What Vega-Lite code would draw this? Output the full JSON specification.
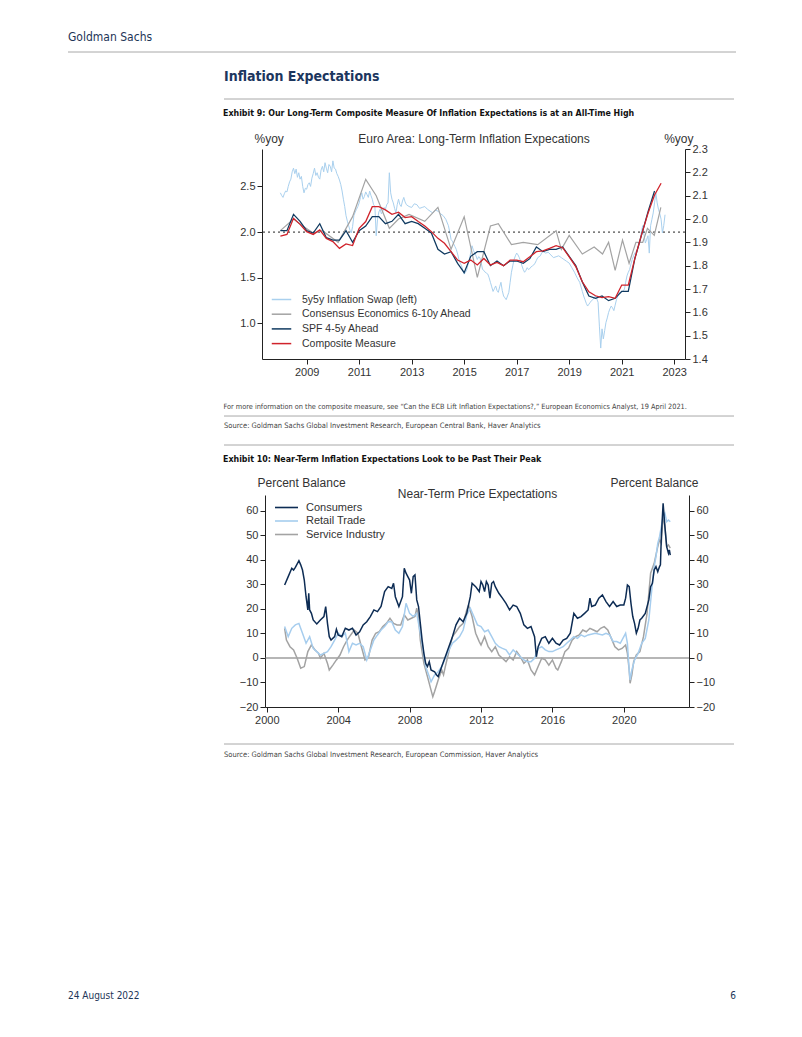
{
"$schema": "https://vega.github.io/schema/vega-lite/v6.json",
"background": "white",
"padding": {"left": 67, "top": 30, "right": 67, "bottom": 36},
"spacing": 0,
"resolve": {"scale": {"color": "independent", "strokeWidth": "independent"}, "legend": {"color": "independent", "strokeWidth": "independent"}},
"config": {
  "view": {"stroke": null},
  "axis": {"labelFont": "Liberation Sans", "titleFont": "Liberation Sans", "labelFontSize": 11, "titleFontSize": 12, "titleFontWeight": "normal", "labelColor": "#333", "titleColor": "#333", "domainColor": "#222", "tickColor": "#222", "grid": false, "tickSize": 5, "labelPadding": 2},
  "legend": {"labelFont": "Liberation Sans", "labelColor": "#333", "labelLimit": 300}
},
"datasets": {
  "swap": [
{"t":2008.0,"v":2.43},{"t":2008.05,"v":2.40},{"t":2008.1,"v":2.38},{"t":2008.15,"v":2.42},{"t":2008.2,"v":2.45},{"t":2008.25,"v":2.44},{"t":2008.3,"v":2.50},{"t":2008.35,"v":2.55},{"t":2008.4,"v":2.58},{"t":2008.45,"v":2.66},{"t":2008.5,"v":2.70},{"t":2008.55,"v":2.64},{"t":2008.6,"v":2.69},{"t":2008.65,"v":2.60},{"t":2008.7,"v":2.65},{"t":2008.75,"v":2.58},{"t":2008.8,"v":2.61},{"t":2008.85,"v":2.50},{"t":2008.9,"v":2.43},{"t":2008.95,"v":2.48},
{"t":2009.0,"v":2.47},{"t":2009.05,"v":2.52},{"t":2009.1,"v":2.54},{"t":2009.15,"v":2.50},{"t":2009.2,"v":2.59},{"t":2009.25,"v":2.64},{"t":2009.3,"v":2.70},{"t":2009.35,"v":2.62},{"t":2009.4,"v":2.65},{"t":2009.45,"v":2.60},{"t":2009.5,"v":2.58},{"t":2009.55,"v":2.68},{"t":2009.6,"v":2.72},{"t":2009.65,"v":2.66},{"t":2009.7,"v":2.76},{"t":2009.75,"v":2.70},{"t":2009.8,"v":2.65},{"t":2009.85,"v":2.74},{"t":2009.9,"v":2.72},{"t":2009.95,"v":2.66},
{"t":2010.0,"v":2.78},{"t":2010.05,"v":2.70},{"t":2010.1,"v":2.69},{"t":2010.15,"v":2.64},{"t":2010.2,"v":2.61},{"t":2010.25,"v":2.57},{"t":2010.3,"v":2.52},{"t":2010.35,"v":2.45},{"t":2010.4,"v":2.36},{"t":2010.45,"v":2.28},{"t":2010.5,"v":2.18},{"t":2010.55,"v":2.12},{"t":2010.6,"v":2.07},{"t":2010.65,"v":2.02},{"t":2010.7,"v":1.99},{"t":2010.75,"v":2.06},{"t":2010.8,"v":2.18},{"t":2010.85,"v":2.22},{"t":2010.9,"v":2.25},{"t":2010.95,"v":2.28},
{"t":2011.0,"v":2.32},{"t":2011.05,"v":2.38},{"t":2011.1,"v":2.43},{"t":2011.15,"v":2.36},{"t":2011.2,"v":2.39},{"t":2011.25,"v":2.44},{"t":2011.3,"v":2.41},{"t":2011.35,"v":2.38},{"t":2011.4,"v":2.45},{"t":2011.45,"v":2.40},{"t":2011.5,"v":2.36},{"t":2011.55,"v":2.30},{"t":2011.6,"v":2.28},{"t":2011.65,"v":1.96},{"t":2011.7,"v":2.14},{"t":2011.75,"v":2.22},{"t":2011.8,"v":2.25},{"t":2011.85,"v":2.20},{"t":2011.9,"v":2.23},{"t":2011.95,"v":2.27},
{"t":2012.0,"v":2.25},{"t":2012.05,"v":2.30},{"t":2012.1,"v":2.32},{"t":2012.15,"v":2.65},{"t":2012.2,"v":2.43},{"t":2012.25,"v":2.36},{"t":2012.3,"v":2.32},{"t":2012.35,"v":2.26},{"t":2012.4,"v":2.21},{"t":2012.45,"v":2.30},{"t":2012.5,"v":2.36},{"t":2012.55,"v":2.30},{"t":2012.6,"v":2.28},{"t":2012.65,"v":2.34},{"t":2012.7,"v":2.38},{"t":2012.75,"v":2.33},{"t":2012.8,"v":2.30},{"t":2012.9,"v":2.28},
{"t":2013.0,"v":2.27},{"t":2013.1,"v":2.31},{"t":2013.2,"v":2.30},{"t":2013.3,"v":2.26},{"t":2013.4,"v":2.27},{"t":2013.5,"v":2.28},{"t":2013.6,"v":2.25},{"t":2013.7,"v":2.23},{"t":2013.8,"v":2.21},{"t":2013.9,"v":2.24},
{"t":2014.0,"v":2.23},{"t":2014.1,"v":2.20},{"t":2014.2,"v":2.18},{"t":2014.3,"v":2.14},{"t":2014.4,"v":2.07},{"t":2014.45,"v":2.00},{"t":2014.5,"v":1.92},{"t":2014.55,"v":1.90},{"t":2014.6,"v":1.87},{"t":2014.65,"v":1.84},{"t":2014.7,"v":1.81},{"t":2014.75,"v":1.76},{"t":2014.8,"v":1.70},{"t":2014.85,"v":1.66},{"t":2014.9,"v":1.63},{"t":2014.95,"v":1.58},
{"t":2015.0,"v":1.54},{"t":2015.05,"v":1.56},{"t":2015.1,"v":1.59},{"t":2015.15,"v":1.65},{"t":2015.2,"v":1.70},{"t":2015.25,"v":1.78},{"t":2015.3,"v":1.85},{"t":2015.35,"v":1.80},{"t":2015.4,"v":1.77},{"t":2015.45,"v":1.74},{"t":2015.5,"v":1.70},{"t":2015.55,"v":1.73},{"t":2015.6,"v":1.72},{"t":2015.65,"v":1.66},{"t":2015.7,"v":1.59},{"t":2015.75,"v":1.58},{"t":2015.8,"v":1.56},{"t":2015.85,"v":1.55},{"t":2015.9,"v":1.54},{"t":2015.95,"v":1.50},
{"t":2016.0,"v":1.45},{"t":2016.05,"v":1.40},{"t":2016.1,"v":1.35},{"t":2016.15,"v":1.38},{"t":2016.2,"v":1.41},{"t":2016.25,"v":1.36},{"t":2016.3,"v":1.34},{"t":2016.35,"v":1.40},{"t":2016.4,"v":1.45},{"t":2016.45,"v":1.36},{"t":2016.5,"v":1.30},{"t":2016.55,"v":1.28},{"t":2016.6,"v":1.26},{"t":2016.65,"v":1.30},{"t":2016.7,"v":1.34},{"t":2016.75,"v":1.45},{"t":2016.8,"v":1.56},{"t":2016.85,"v":1.63},{"t":2016.9,"v":1.70},{"t":2016.95,"v":1.74},
{"t":2017.0,"v":1.77},{"t":2017.05,"v":1.75},{"t":2017.1,"v":1.72},{"t":2017.15,"v":1.68},{"t":2017.2,"v":1.63},{"t":2017.25,"v":1.59},{"t":2017.3,"v":1.56},{"t":2017.35,"v":1.58},{"t":2017.4,"v":1.61},{"t":2017.45,"v":1.59},{"t":2017.5,"v":1.60},{"t":2017.55,"v":1.62},{"t":2017.6,"v":1.63},{"t":2017.65,"v":1.64},{"t":2017.7,"v":1.66},{"t":2017.75,"v":1.69},{"t":2017.8,"v":1.72},{"t":2017.85,"v":1.73},{"t":2017.9,"v":1.74},{"t":2017.95,"v":1.77},
{"t":2018.0,"v":1.79},{"t":2018.1,"v":1.77},{"t":2018.2,"v":1.78},{"t":2018.3,"v":1.75},{"t":2018.4,"v":1.72},{"t":2018.5,"v":1.73},{"t":2018.6,"v":1.74},{"t":2018.7,"v":1.72},{"t":2018.8,"v":1.70},{"t":2018.9,"v":1.68},
{"t":2019.0,"v":1.66},{"t":2019.1,"v":1.61},{"t":2019.2,"v":1.56},{"t":2019.3,"v":1.50},{"t":2019.4,"v":1.45},{"t":2019.5,"v":1.35},{"t":2019.55,"v":1.30},{"t":2019.6,"v":1.26},{"t":2019.65,"v":1.22},{"t":2019.7,"v":1.19},{"t":2019.75,"v":1.21},{"t":2019.8,"v":1.23},{"t":2019.85,"v":1.25},{"t":2019.9,"v":1.26},{"t":2019.95,"v":1.28},
{"t":2020.0,"v":1.30},{"t":2020.05,"v":1.27},{"t":2020.1,"v":1.23},{"t":2020.15,"v":0.97},{"t":2020.2,"v":0.73},{"t":2020.25,"v":0.94},{"t":2020.3,"v":0.83},{"t":2020.35,"v":0.92},{"t":2020.4,"v":1.01},{"t":2020.45,"v":1.06},{"t":2020.5,"v":1.12},{"t":2020.55,"v":1.16},{"t":2020.6,"v":1.19},{"t":2020.65,"v":1.17},{"t":2020.7,"v":1.14},{"t":2020.75,"v":1.20},{"t":2020.8,"v":1.26},{"t":2020.85,"v":1.30},{"t":2020.9,"v":1.34},{"t":2020.95,"v":1.33},
{"t":2021.0,"v":1.34},{"t":2021.05,"v":1.36},{"t":2021.1,"v":1.37},{"t":2021.15,"v":1.45},{"t":2021.2,"v":1.52},{"t":2021.25,"v":1.56},{"t":2021.3,"v":1.59},{"t":2021.35,"v":1.65},{"t":2021.4,"v":1.70},{"t":2021.45,"v":1.74},{"t":2021.5,"v":1.77},{"t":2021.55,"v":1.79},{"t":2021.6,"v":1.81},{"t":2021.65,"v":1.86},{"t":2021.7,"v":1.92},{"t":2021.75,"v":2.00},{"t":2021.8,"v":2.07},{"t":2021.85,"v":1.97},{"t":2021.9,"v":1.88},{"t":2021.95,"v":1.92},
{"t":2022.0,"v":1.96},{"t":2022.05,"v":1.77},{"t":2022.1,"v":2.07},{"t":2022.15,"v":2.14},{"t":2022.2,"v":2.21},{"t":2022.25,"v":2.32},{"t":2022.3,"v":2.43},{"t":2022.35,"v":2.32},{"t":2022.4,"v":2.25},{"t":2022.45,"v":2.20},{"t":2022.5,"v":2.14},{"t":2022.55,"v":1.99},{"t":2022.6,"v":2.07},{"t":2022.65,"v":2.19}
  ],
  "lt": [
{"s":"Consensus Economics 6-10y Ahead","t":2008.0,"v":1.95},{"s":"Consensus Economics 6-10y Ahead","t":2008.5,"v":2.00},{"s":"Consensus Economics 6-10y Ahead","t":2008.85,"v":1.97},{"s":"Consensus Economics 6-10y Ahead","t":2009.25,"v":1.94},{"s":"Consensus Economics 6-10y Ahead","t":2009.6,"v":1.95},{"s":"Consensus Economics 6-10y Ahead","t":2010.2,"v":1.90},{"s":"Consensus Economics 6-10y Ahead","t":2010.5,"v":1.96},{"s":"Consensus Economics 6-10y Ahead","t":2010.75,"v":2.01},{"s":"Consensus Economics 6-10y Ahead","t":2011.25,"v":2.17},{"s":"Consensus Economics 6-10y Ahead","t":2011.65,"v":2.10},{"s":"Consensus Economics 6-10y Ahead","t":2012.15,"v":1.96},{"s":"Consensus Economics 6-10y Ahead","t":2012.5,"v":2.00},{"s":"Consensus Economics 6-10y Ahead","t":2012.9,"v":2.02},{"s":"Consensus Economics 6-10y Ahead","t":2013.5,"v":1.99},{"s":"Consensus Economics 6-10y Ahead","t":2014.0,"v":2.05},{"s":"Consensus Economics 6-10y Ahead","t":2014.5,"v":1.87},{"s":"Consensus Economics 6-10y Ahead","t":2015.0,"v":2.01},{"s":"Consensus Economics 6-10y Ahead","t":2015.5,"v":1.75},{"s":"Consensus Economics 6-10y Ahead","t":2016.0,"v":1.97},{"s":"Consensus Economics 6-10y Ahead","t":2016.3,"v":1.98},{"s":"Consensus Economics 6-10y Ahead","t":2016.8,"v":1.89},{"s":"Consensus Economics 6-10y Ahead","t":2017.25,"v":1.90},{"s":"Consensus Economics 6-10y Ahead","t":2017.8,"v":1.89},{"s":"Consensus Economics 6-10y Ahead","t":2018.5,"v":1.95},{"s":"Consensus Economics 6-10y Ahead","t":2018.7,"v":1.87},{"s":"Consensus Economics 6-10y Ahead","t":2019.0,"v":1.93},{"s":"Consensus Economics 6-10y Ahead","t":2019.5,"v":1.85},{"s":"Consensus Economics 6-10y Ahead","t":2019.95,"v":1.88},{"s":"Consensus Economics 6-10y Ahead","t":2020.27,"v":1.85},{"s":"Consensus Economics 6-10y Ahead","t":2020.5,"v":1.90},{"s":"Consensus Economics 6-10y Ahead","t":2020.75,"v":1.78},{"s":"Consensus Economics 6-10y Ahead","t":2021.03,"v":1.91},{"s":"Consensus Economics 6-10y Ahead","t":2021.28,"v":1.81},{"s":"Consensus Economics 6-10y Ahead","t":2021.54,"v":1.90},{"s":"Consensus Economics 6-10y Ahead","t":2021.8,"v":1.90},{"s":"Consensus Economics 6-10y Ahead","t":2021.98,"v":1.96},{"s":"Consensus Economics 6-10y Ahead","t":2022.24,"v":1.93},{"s":"Consensus Economics 6-10y Ahead","t":2022.49,"v":2.05},
{"s":"SPF 4-5y Ahead","t":2008.0,"v":1.95},{"s":"SPF 4-5y Ahead","t":2008.25,"v":1.95},{"s":"SPF 4-5y Ahead","t":2008.5,"v":2.02},{"s":"SPF 4-5y Ahead","t":2008.75,"v":1.99},{"s":"SPF 4-5y Ahead","t":2009.0,"v":1.95},{"s":"SPF 4-5y Ahead","t":2009.25,"v":1.94},{"s":"SPF 4-5y Ahead","t":2009.5,"v":1.98},{"s":"SPF 4-5y Ahead","t":2009.75,"v":1.92},{"s":"SPF 4-5y Ahead","t":2010.0,"v":1.91},{"s":"SPF 4-5y Ahead","t":2010.25,"v":1.91},{"s":"SPF 4-5y Ahead","t":2010.5,"v":1.95},{"s":"SPF 4-5y Ahead","t":2010.75,"v":1.90},{"s":"SPF 4-5y Ahead","t":2011.0,"v":1.95},{"s":"SPF 4-5y Ahead","t":2011.25,"v":1.97},{"s":"SPF 4-5y Ahead","t":2011.5,"v":2.01},{"s":"SPF 4-5y Ahead","t":2011.75,"v":2.01},{"s":"SPF 4-5y Ahead","t":2012.0,"v":1.98},{"s":"SPF 4-5y Ahead","t":2012.25,"v":1.99},{"s":"SPF 4-5y Ahead","t":2012.5,"v":2.02},{"s":"SPF 4-5y Ahead","t":2012.75,"v":1.98},{"s":"SPF 4-5y Ahead","t":2013.0,"v":1.99},{"s":"SPF 4-5y Ahead","t":2013.25,"v":1.98},{"s":"SPF 4-5y Ahead","t":2013.5,"v":1.96},{"s":"SPF 4-5y Ahead","t":2013.75,"v":1.94},{"s":"SPF 4-5y Ahead","t":2014.0,"v":1.87},{"s":"SPF 4-5y Ahead","t":2014.25,"v":1.85},{"s":"SPF 4-5y Ahead","t":2014.5,"v":1.86},{"s":"SPF 4-5y Ahead","t":2014.75,"v":1.81},{"s":"SPF 4-5y Ahead","t":2015.0,"v":1.77},{"s":"SPF 4-5y Ahead","t":2015.25,"v":1.84},{"s":"SPF 4-5y Ahead","t":2015.5,"v":1.86},{"s":"SPF 4-5y Ahead","t":2015.75,"v":1.86},{"s":"SPF 4-5y Ahead","t":2016.0,"v":1.80},{"s":"SPF 4-5y Ahead","t":2016.25,"v":1.82},{"s":"SPF 4-5y Ahead","t":2016.5,"v":1.80},{"s":"SPF 4-5y Ahead","t":2016.75,"v":1.82},{"s":"SPF 4-5y Ahead","t":2017.0,"v":1.82},{"s":"SPF 4-5y Ahead","t":2017.25,"v":1.81},{"s":"SPF 4-5y Ahead","t":2017.5,"v":1.83},{"s":"SPF 4-5y Ahead","t":2017.75,"v":1.88},{"s":"SPF 4-5y Ahead","t":2018.0,"v":1.86},{"s":"SPF 4-5y Ahead","t":2018.25,"v":1.87},{"s":"SPF 4-5y Ahead","t":2018.5,"v":1.87},{"s":"SPF 4-5y Ahead","t":2018.75,"v":1.88},{"s":"SPF 4-5y Ahead","t":2019.0,"v":1.84},{"s":"SPF 4-5y Ahead","t":2019.25,"v":1.80},{"s":"SPF 4-5y Ahead","t":2019.5,"v":1.73},{"s":"SPF 4-5y Ahead","t":2019.75,"v":1.67},{"s":"SPF 4-5y Ahead","t":2020.0,"v":1.66},{"s":"SPF 4-5y Ahead","t":2020.25,"v":1.67},{"s":"SPF 4-5y Ahead","t":2020.5,"v":1.65},{"s":"SPF 4-5y Ahead","t":2020.75,"v":1.66},{"s":"SPF 4-5y Ahead","t":2021.0,"v":1.69},{"s":"SPF 4-5y Ahead","t":2021.25,"v":1.69},{"s":"SPF 4-5y Ahead","t":2021.5,"v":1.83},{"s":"SPF 4-5y Ahead","t":2021.75,"v":1.93},{"s":"SPF 4-5y Ahead","t":2022.0,"v":2.03},{"s":"SPF 4-5y Ahead","t":2022.25,"v":2.12},
{"s":"Composite Measure","t":2008.0,"v":1.927},{"s":"Composite Measure","t":2008.25,"v":1.934},{"s":"Composite Measure","t":2008.5,"v":2.003},{"s":"Composite Measure","t":2008.75,"v":1.977},{"s":"Composite Measure","t":2009.0,"v":1.946},{"s":"Composite Measure","t":2009.25,"v":1.934},{"s":"Composite Measure","t":2009.5,"v":1.953},{"s":"Composite Measure","t":2009.75,"v":1.917},{"s":"Composite Measure","t":2010.0,"v":1.903},{"s":"Composite Measure","t":2010.25,"v":1.874},{"s":"Composite Measure","t":2010.5,"v":1.893},{"s":"Composite Measure","t":2010.75,"v":1.886},{"s":"Composite Measure","t":2011.0,"v":1.96},{"s":"Composite Measure","t":2011.25,"v":1.989},{"s":"Composite Measure","t":2011.5,"v":2.053},{"s":"Composite Measure","t":2011.75,"v":2.053},{"s":"Composite Measure","t":2012.0,"v":2.039},{"s":"Composite Measure","t":2012.25,"v":2.02},{"s":"Composite Measure","t":2012.5,"v":2.029},{"s":"Composite Measure","t":2012.75,"v":2.006},{"s":"Composite Measure","t":2013.0,"v":2.01},{"s":"Composite Measure","t":2013.25,"v":1.989},{"s":"Composite Measure","t":2013.5,"v":1.97},{"s":"Composite Measure","t":2013.75,"v":1.946},{"s":"Composite Measure","t":2014.0,"v":1.917},{"s":"Composite Measure","t":2014.25,"v":1.896},{"s":"Composite Measure","t":2014.5,"v":1.86},{"s":"Composite Measure","t":2014.75,"v":1.824},{"s":"Composite Measure","t":2015.0,"v":1.81},{"s":"Composite Measure","t":2015.25,"v":1.824},{"s":"Composite Measure","t":2015.5,"v":1.803},{"s":"Composite Measure","t":2015.75,"v":1.831},{"s":"Composite Measure","t":2016.0,"v":1.803},{"s":"Composite Measure","t":2016.25,"v":1.814},{"s":"Composite Measure","t":2016.5,"v":1.80},{"s":"Composite Measure","t":2016.75,"v":1.824},{"s":"Composite Measure","t":2017.0,"v":1.824},{"s":"Composite Measure","t":2017.25,"v":1.817},{"s":"Composite Measure","t":2017.5,"v":1.838},{"s":"Composite Measure","t":2017.75,"v":1.86},{"s":"Composite Measure","t":2018.0,"v":1.863},{"s":"Composite Measure","t":2018.25,"v":1.874},{"s":"Composite Measure","t":2018.5,"v":1.886},{"s":"Composite Measure","t":2018.75,"v":1.877},{"s":"Composite Measure","t":2019.0,"v":1.838},{"s":"Composite Measure","t":2019.25,"v":1.796},{"s":"Composite Measure","t":2019.5,"v":1.731},{"s":"Composite Measure","t":2019.75,"v":1.688},{"s":"Composite Measure","t":2020.0,"v":1.671},{"s":"Composite Measure","t":2020.25,"v":1.663},{"s":"Composite Measure","t":2020.5,"v":1.667},{"s":"Composite Measure","t":2020.75,"v":1.66},{"s":"Composite Measure","t":2021.0,"v":1.717},{"s":"Composite Measure","t":2021.25,"v":1.717},{"s":"Composite Measure","t":2021.5,"v":1.831},{"s":"Composite Measure","t":2021.75,"v":1.931},{"s":"Composite Measure","t":2022.0,"v":2.024},{"s":"Composite Measure","t":2022.25,"v":2.103},{"s":"Composite Measure","t":2022.5,"v":2.153}
  ],
  "nt": [
{"s":"Service Industry","t":2001.0,"v":12.1},{"s":"Service Industry","t":2001.1,"v":7.3},{"s":"Service Industry","t":2001.3,"v":4.6},{"s":"Service Industry","t":2001.5,"v":3.3},{"s":"Service Industry","t":2001.7,"v":-0.1},{"s":"Service Industry","t":2001.9,"v":-4.2},{"s":"Service Industry","t":2002.1,"v":-3.5},{"s":"Service Industry","t":2002.3,"v":2.6},{"s":"Service Industry","t":2002.5,"v":5.3},{"s":"Service Industry","t":2002.7,"v":3.3},{"s":"Service Industry","t":2002.9,"v":1.9},{"s":"Service Industry","t":2003.0,"v":-0.1},{"s":"Service Industry","t":2003.2,"v":1.9},{"s":"Service Industry","t":2003.4,"v":-2.2},{"s":"Service Industry","t":2003.5,"v":-4.9},{"s":"Service Industry","t":2003.7,"v":-2.9},{"s":"Service Industry","t":2003.9,"v":-0.8},{"s":"Service Industry","t":2004.1,"v":1.2},{"s":"Service Industry","t":2004.3,"v":4.6},{"s":"Service Industry","t":2004.5,"v":7.3},{"s":"Service Industry","t":2004.7,"v":9.4},{"s":"Service Industry","t":2004.9,"v":11.4},{"s":"Service Industry","t":2005.1,"v":10.1},{"s":"Service Industry","t":2005.3,"v":4.6},{"s":"Service Industry","t":2005.5,"v":-0.8},{"s":"Service Industry","t":2005.7,"v":0.5},{"s":"Service Industry","t":2005.9,"v":7.3},{"s":"Service Industry","t":2006.1,"v":10.1},{"s":"Service Industry","t":2006.3,"v":10.7},{"s":"Service Industry","t":2006.5,"v":12.8},{"s":"Service Industry","t":2006.7,"v":14.1},{"s":"Service Industry","t":2006.9,"v":16.2},{"s":"Service Industry","t":2007.1,"v":14.1},{"s":"Service Industry","t":2007.3,"v":13.5},{"s":"Service Industry","t":2007.5,"v":13.5},{"s":"Service Industry","t":2007.7,"v":17.6},{"s":"Service Industry","t":2007.9,"v":15.5},{"s":"Service Industry","t":2008.1,"v":16.2},{"s":"Service Industry","t":2008.3,"v":16.9},{"s":"Service Industry","t":2008.4,"v":20.3},{"s":"Service Industry","t":2008.5,"v":16.9},{"s":"Service Industry","t":2008.6,"v":7.3},{"s":"Service Industry","t":2008.8,"v":-2.2},{"s":"Service Industry","t":2009.0,"v":-7.6},{"s":"Service Industry","t":2009.2,"v":-13.1},{"s":"Service Industry","t":2009.3,"v":-15.8},{"s":"Service Industry","t":2009.4,"v":-13.7},{"s":"Service Industry","t":2009.6,"v":-9.0},{"s":"Service Industry","t":2009.8,"v":-4.9},{"s":"Service Industry","t":2009.9,"v":-6.9},{"s":"Service Industry","t":2010.0,"v":-3.5},{"s":"Service Industry","t":2010.2,"v":2.6},{"s":"Service Industry","t":2010.4,"v":8.7},{"s":"Service Industry","t":2010.6,"v":10.7},{"s":"Service Industry","t":2010.8,"v":12.8},{"s":"Service Industry","t":2011.0,"v":14.1},{"s":"Service Industry","t":2011.2,"v":19.6},{"s":"Service Industry","t":2011.3,"v":21.6},{"s":"Service Industry","t":2011.5,"v":16.9},{"s":"Service Industry","t":2011.7,"v":10.1},{"s":"Service Industry","t":2011.9,"v":6.7},{"s":"Service Industry","t":2012.0,"v":5.3},{"s":"Service Industry","t":2012.2,"v":8.7},{"s":"Service Industry","t":2012.4,"v":4.6},{"s":"Service Industry","t":2012.6,"v":2.6},{"s":"Service Industry","t":2012.8,"v":4.6},{"s":"Service Industry","t":2013.0,"v":1.2},{"s":"Service Industry","t":2013.2,"v":-0.1},{"s":"Service Industry","t":2013.4,"v":-1.5},{"s":"Service Industry","t":2013.6,"v":0.5},{"s":"Service Industry","t":2013.8,"v":-0.8},{"s":"Service Industry","t":2014.0,"v":2.6},{"s":"Service Industry","t":2014.2,"v":0.5},{"s":"Service Industry","t":2014.4,"v":-2.2},{"s":"Service Industry","t":2014.6,"v":-0.8},{"s":"Service Industry","t":2014.8,"v":-4.9},{"s":"Service Industry","t":2015.0,"v":-6.9},{"s":"Service Industry","t":2015.2,"v":-3.5},{"s":"Service Industry","t":2015.4,"v":-0.1},{"s":"Service Industry","t":2015.6,"v":-0.8},{"s":"Service Industry","t":2015.8,"v":-2.9},{"s":"Service Industry","t":2016.0,"v":-0.8},{"s":"Service Industry","t":2016.2,"v":-4.2},{"s":"Service Industry","t":2016.3,"v":-4.9},{"s":"Service Industry","t":2016.5,"v":-1.5},{"s":"Service Industry","t":2016.7,"v":2.6},{"s":"Service Industry","t":2016.9,"v":3.9},{"s":"Service Industry","t":2017.1,"v":7.3},{"s":"Service Industry","t":2017.3,"v":8.7},{"s":"Service Industry","t":2017.5,"v":9.4},{"s":"Service Industry","t":2017.7,"v":11.4},{"s":"Service Industry","t":2017.9,"v":10.7},{"s":"Service Industry","t":2018.1,"v":12.1},{"s":"Service Industry","t":2018.3,"v":11.4},{"s":"Service Industry","t":2018.5,"v":10.7},{"s":"Service Industry","t":2018.7,"v":12.1},{"s":"Service Industry","t":2018.9,"v":12.8},{"s":"Service Industry","t":2019.1,"v":11.4},{"s":"Service Industry","t":2019.3,"v":8.0},{"s":"Service Industry","t":2019.5,"v":4.6},{"s":"Service Industry","t":2019.7,"v":3.3},{"s":"Service Industry","t":2019.9,"v":3.9},{"s":"Service Industry","t":2020.1,"v":5.3},{"s":"Service Industry","t":2020.2,"v":1.9},{"s":"Service Industry","t":2020.3,"v":-4.9},{"s":"Service Industry","t":2020.35,"v":-10.3},{"s":"Service Industry","t":2020.45,"v":-6.9},{"s":"Service Industry","t":2020.55,"v":-1.5},{"s":"Service Industry","t":2020.7,"v":1.2},{"s":"Service Industry","t":2020.9,"v":2.6},{"s":"Service Industry","t":2021.1,"v":8.7},{"s":"Service Industry","t":2021.3,"v":18.2},{"s":"Service Industry","t":2021.5,"v":34.6},{"s":"Service Industry","t":2021.7,"v":38.6},{"s":"Service Industry","t":2021.9,"v":45.4},{"s":"Service Industry","t":2022.0,"v":48.2},{"s":"Service Industry","t":2022.1,"v":46.8},{"s":"Service Industry","t":2022.2,"v":58.4},{"s":"Service Industry","t":2022.3,"v":53.6},{"s":"Service Industry","t":2022.4,"v":45.4},{"s":"Service Industry","t":2022.5,"v":46.1},{"s":"Service Industry","t":2022.6,"v":44.8},
{"s":"Retail Trade","t":2001.0,"v":12.8},{"s":"Retail Trade","t":2001.2,"v":8.7},{"s":"Retail Trade","t":2001.4,"v":12.1},{"s":"Retail Trade","t":2001.6,"v":13.5},{"s":"Retail Trade","t":2001.8,"v":14.1},{"s":"Retail Trade","t":2002.0,"v":10.1},{"s":"Retail Trade","t":2002.2,"v":6.0},{"s":"Retail Trade","t":2002.4,"v":8.7},{"s":"Retail Trade","t":2002.6,"v":3.9},{"s":"Retail Trade","t":2002.8,"v":2.6},{"s":"Retail Trade","t":2003.0,"v":1.2},{"s":"Retail Trade","t":2003.2,"v":1.9},{"s":"Retail Trade","t":2003.4,"v":2.6},{"s":"Retail Trade","t":2003.6,"v":4.6},{"s":"Retail Trade","t":2003.8,"v":7.3},{"s":"Retail Trade","t":2004.0,"v":10.1},{"s":"Retail Trade","t":2004.2,"v":8.7},{"s":"Retail Trade","t":2004.4,"v":10.1},{"s":"Retail Trade","t":2004.6,"v":2.6},{"s":"Retail Trade","t":2004.8,"v":6.0},{"s":"Retail Trade","t":2005.0,"v":5.3},{"s":"Retail Trade","t":2005.2,"v":6.0},{"s":"Retail Trade","t":2005.4,"v":4.6},{"s":"Retail Trade","t":2005.6,"v":-0.8},{"s":"Retail Trade","t":2005.8,"v":3.3},{"s":"Retail Trade","t":2006.0,"v":7.3},{"s":"Retail Trade","t":2006.2,"v":9.4},{"s":"Retail Trade","t":2006.4,"v":11.4},{"s":"Retail Trade","t":2006.6,"v":12.8},{"s":"Retail Trade","t":2006.8,"v":14.8},{"s":"Retail Trade","t":2007.0,"v":14.8},{"s":"Retail Trade","t":2007.2,"v":11.4},{"s":"Retail Trade","t":2007.4,"v":10.1},{"s":"Retail Trade","t":2007.6,"v":12.8},{"s":"Retail Trade","t":2007.8,"v":22.3},{"s":"Retail Trade","t":2008.0,"v":18.2},{"s":"Retail Trade","t":2008.2,"v":16.9},{"s":"Retail Trade","t":2008.4,"v":18.2},{"s":"Retail Trade","t":2008.5,"v":14.1},{"s":"Retail Trade","t":2008.7,"v":6.0},{"s":"Retail Trade","t":2008.9,"v":-3.5},{"s":"Retail Trade","t":2009.1,"v":-7.6},{"s":"Retail Trade","t":2009.2,"v":-9.7},{"s":"Retail Trade","t":2009.4,"v":-6.9},{"s":"Retail Trade","t":2009.6,"v":-5.6},{"s":"Retail Trade","t":2009.8,"v":-3.5},{"s":"Retail Trade","t":2010.0,"v":-0.1},{"s":"Retail Trade","t":2010.2,"v":3.3},{"s":"Retail Trade","t":2010.4,"v":6.0},{"s":"Retail Trade","t":2010.6,"v":7.3},{"s":"Retail Trade","t":2010.8,"v":8.7},{"s":"Retail Trade","t":2011.0,"v":11.4},{"s":"Retail Trade","t":2011.2,"v":17.6},{"s":"Retail Trade","t":2011.4,"v":20.3},{"s":"Retail Trade","t":2011.6,"v":16.9},{"s":"Retail Trade","t":2011.8,"v":13.5},{"s":"Retail Trade","t":2012.0,"v":12.8},{"s":"Retail Trade","t":2012.2,"v":10.7},{"s":"Retail Trade","t":2012.4,"v":11.4},{"s":"Retail Trade","t":2012.6,"v":8.7},{"s":"Retail Trade","t":2012.8,"v":6.0},{"s":"Retail Trade","t":2013.0,"v":4.6},{"s":"Retail Trade","t":2013.2,"v":3.9},{"s":"Retail Trade","t":2013.4,"v":3.3},{"s":"Retail Trade","t":2013.6,"v":1.2},{"s":"Retail Trade","t":2013.8,"v":3.3},{"s":"Retail Trade","t":2014.0,"v":1.9},{"s":"Retail Trade","t":2014.2,"v":0.5},{"s":"Retail Trade","t":2014.4,"v":-0.8},{"s":"Retail Trade","t":2014.6,"v":-1.5},{"s":"Retail Trade","t":2014.8,"v":-1.5},{"s":"Retail Trade","t":2015.0,"v":-0.1},{"s":"Retail Trade","t":2015.2,"v":3.9},{"s":"Retail Trade","t":2015.4,"v":4.6},{"s":"Retail Trade","t":2015.6,"v":3.3},{"s":"Retail Trade","t":2015.8,"v":2.6},{"s":"Retail Trade","t":2016.0,"v":2.6},{"s":"Retail Trade","t":2016.2,"v":3.3},{"s":"Retail Trade","t":2016.4,"v":3.9},{"s":"Retail Trade","t":2016.6,"v":4.6},{"s":"Retail Trade","t":2016.8,"v":6.0},{"s":"Retail Trade","t":2017.0,"v":7.3},{"s":"Retail Trade","t":2017.2,"v":8.7},{"s":"Retail Trade","t":2017.4,"v":8.0},{"s":"Retail Trade","t":2017.6,"v":9.4},{"s":"Retail Trade","t":2017.8,"v":8.7},{"s":"Retail Trade","t":2018.0,"v":9.4},{"s":"Retail Trade","t":2018.4,"v":10.1},{"s":"Retail Trade","t":2018.8,"v":9.4},{"s":"Retail Trade","t":2019.0,"v":10.1},{"s":"Retail Trade","t":2019.2,"v":9.4},{"s":"Retail Trade","t":2019.4,"v":6.7},{"s":"Retail Trade","t":2019.6,"v":6.7},{"s":"Retail Trade","t":2019.8,"v":6.0},{"s":"Retail Trade","t":2020.0,"v":8.7},{"s":"Retail Trade","t":2020.1,"v":10.1},{"s":"Retail Trade","t":2020.2,"v":6.0},{"s":"Retail Trade","t":2020.3,"v":-4.9},{"s":"Retail Trade","t":2020.35,"v":-9.0},{"s":"Retail Trade","t":2020.45,"v":-4.9},{"s":"Retail Trade","t":2020.6,"v":-0.8},{"s":"Retail Trade","t":2020.8,"v":1.9},{"s":"Retail Trade","t":2021.0,"v":6.0},{"s":"Retail Trade","t":2021.2,"v":8.0},{"s":"Retail Trade","t":2021.4,"v":15.5},{"s":"Retail Trade","t":2021.6,"v":30.5},{"s":"Retail Trade","t":2021.7,"v":37.3},{"s":"Retail Trade","t":2021.8,"v":41.4},{"s":"Retail Trade","t":2021.9,"v":46.8},{"s":"Retail Trade","t":2022.0,"v":49.5},{"s":"Retail Trade","t":2022.1,"v":53.6},{"s":"Retail Trade","t":2022.2,"v":57.7},{"s":"Retail Trade","t":2022.3,"v":59.0},{"s":"Retail Trade","t":2022.4,"v":55.6},{"s":"Retail Trade","t":2022.5,"v":56.3},{"s":"Retail Trade","t":2022.6,"v":55.6},
{"s":"Consumers","t":2001.0,"v":29.8},{"s":"Consumers","t":2001.2,"v":33.2},{"s":"Consumers","t":2001.4,"v":36.6},{"s":"Consumers","t":2001.5,"v":35.9},{"s":"Consumers","t":2001.6,"v":37.0},{"s":"Consumers","t":2001.8,"v":39.7},{"s":"Consumers","t":2001.9,"v":38.0},{"s":"Consumers","t":2002.0,"v":35.9},{"s":"Consumers","t":2002.1,"v":31.8},{"s":"Consumers","t":2002.2,"v":25.0},{"s":"Consumers","t":2002.3,"v":19.6},{"s":"Consumers","t":2002.35,"v":26.4},{"s":"Consumers","t":2002.4,"v":19.6},{"s":"Consumers","t":2002.5,"v":18.2},{"s":"Consumers","t":2002.6,"v":15.5},{"s":"Consumers","t":2002.8,"v":13.9},{"s":"Consumers","t":2003.0,"v":15.5},{"s":"Consumers","t":2003.2,"v":16.9},{"s":"Consumers","t":2003.3,"v":21.0},{"s":"Consumers","t":2003.4,"v":14.1},{"s":"Consumers","t":2003.5,"v":8.7},{"s":"Consumers","t":2003.6,"v":7.3},{"s":"Consumers","t":2003.8,"v":8.7},{"s":"Consumers","t":2003.9,"v":11.7},{"s":"Consumers","t":2004.0,"v":9.4},{"s":"Consumers","t":2004.2,"v":8.7},{"s":"Consumers","t":2004.4,"v":12.1},{"s":"Consumers","t":2004.6,"v":11.4},{"s":"Consumers","t":2004.8,"v":12.1},{"s":"Consumers","t":2005.0,"v":9.4},{"s":"Consumers","t":2005.2,"v":10.7},{"s":"Consumers","t":2005.4,"v":13.5},{"s":"Consumers","t":2005.6,"v":14.8},{"s":"Consumers","t":2005.8,"v":16.9},{"s":"Consumers","t":2006.0,"v":19.6},{"s":"Consumers","t":2006.2,"v":18.9},{"s":"Consumers","t":2006.4,"v":21.0},{"s":"Consumers","t":2006.6,"v":27.1},{"s":"Consumers","t":2006.8,"v":29.1},{"s":"Consumers","t":2007.0,"v":28.4},{"s":"Consumers","t":2007.1,"v":30.5},{"s":"Consumers","t":2007.2,"v":25.0},{"s":"Consumers","t":2007.4,"v":21.0},{"s":"Consumers","t":2007.6,"v":25.0},{"s":"Consumers","t":2007.7,"v":36.6},{"s":"Consumers","t":2007.8,"v":34.6},{"s":"Consumers","t":2007.9,"v":33.2},{"s":"Consumers","t":2008.0,"v":31.8},{"s":"Consumers","t":2008.1,"v":26.4},{"s":"Consumers","t":2008.2,"v":33.2},{"s":"Consumers","t":2008.3,"v":33.9},{"s":"Consumers","t":2008.4,"v":23.7},{"s":"Consumers","t":2008.5,"v":21.0},{"s":"Consumers","t":2008.6,"v":14.1},{"s":"Consumers","t":2008.7,"v":7.3},{"s":"Consumers","t":2008.8,"v":1.9},{"s":"Consumers","t":2008.9,"v":-2.2},{"s":"Consumers","t":2009.0,"v":-3.5},{"s":"Consumers","t":2009.1,"v":-1.5},{"s":"Consumers","t":2009.2,"v":-4.9},{"s":"Consumers","t":2009.4,"v":-5.6},{"s":"Consumers","t":2009.5,"v":-6.9},{"s":"Consumers","t":2009.6,"v":-7.6},{"s":"Consumers","t":2009.8,"v":-3.5},{"s":"Consumers","t":2010.0,"v":0.5},{"s":"Consumers","t":2010.2,"v":4.6},{"s":"Consumers","t":2010.4,"v":8.7},{"s":"Consumers","t":2010.6,"v":13.5},{"s":"Consumers","t":2010.8,"v":16.2},{"s":"Consumers","t":2011.0,"v":14.8},{"s":"Consumers","t":2011.2,"v":18.2},{"s":"Consumers","t":2011.4,"v":25.0},{"s":"Consumers","t":2011.5,"v":30.5},{"s":"Consumers","t":2011.7,"v":29.1},{"s":"Consumers","t":2011.9,"v":27.1},{"s":"Consumers","t":2012.0,"v":31.2},{"s":"Consumers","t":2012.1,"v":29.8},{"s":"Consumers","t":2012.2,"v":27.1},{"s":"Consumers","t":2012.3,"v":31.2},{"s":"Consumers","t":2012.4,"v":29.8},{"s":"Consumers","t":2012.5,"v":24.4},{"s":"Consumers","t":2012.6,"v":30.5},{"s":"Consumers","t":2012.7,"v":31.2},{"s":"Consumers","t":2012.8,"v":29.1},{"s":"Consumers","t":2013.0,"v":26.4},{"s":"Consumers","t":2013.2,"v":24.4},{"s":"Consumers","t":2013.4,"v":22.3},{"s":"Consumers","t":2013.6,"v":19.6},{"s":"Consumers","t":2013.8,"v":21.6},{"s":"Consumers","t":2014.0,"v":21.0},{"s":"Consumers","t":2014.2,"v":18.2},{"s":"Consumers","t":2014.4,"v":13.5},{"s":"Consumers","t":2014.6,"v":12.1},{"s":"Consumers","t":2014.8,"v":12.8},{"s":"Consumers","t":2015.0,"v":8.7},{"s":"Consumers","t":2015.1,"v":0.5},{"s":"Consumers","t":2015.2,"v":4.6},{"s":"Consumers","t":2015.4,"v":8.0},{"s":"Consumers","t":2015.6,"v":8.7},{"s":"Consumers","t":2015.8,"v":6.0},{"s":"Consumers","t":2016.0,"v":8.0},{"s":"Consumers","t":2016.2,"v":6.0},{"s":"Consumers","t":2016.4,"v":5.3},{"s":"Consumers","t":2016.6,"v":7.3},{"s":"Consumers","t":2016.8,"v":8.0},{"s":"Consumers","t":2017.0,"v":10.1},{"s":"Consumers","t":2017.2,"v":18.2},{"s":"Consumers","t":2017.4,"v":16.2},{"s":"Consumers","t":2017.6,"v":16.9},{"s":"Consumers","t":2017.8,"v":18.2},{"s":"Consumers","t":2018.0,"v":19.6},{"s":"Consumers","t":2018.1,"v":24.4},{"s":"Consumers","t":2018.2,"v":21.0},{"s":"Consumers","t":2018.4,"v":21.6},{"s":"Consumers","t":2018.6,"v":24.4},{"s":"Consumers","t":2018.8,"v":25.7},{"s":"Consumers","t":2019.0,"v":23.0},{"s":"Consumers","t":2019.2,"v":21.0},{"s":"Consumers","t":2019.4,"v":23.0},{"s":"Consumers","t":2019.6,"v":21.0},{"s":"Consumers","t":2019.8,"v":21.6},{"s":"Consumers","t":2020.0,"v":21.6},{"s":"Consumers","t":2020.1,"v":24.4},{"s":"Consumers","t":2020.2,"v":29.8},{"s":"Consumers","t":2020.3,"v":29.1},{"s":"Consumers","t":2020.4,"v":22.3},{"s":"Consumers","t":2020.5,"v":16.9},{"s":"Consumers","t":2020.6,"v":14.1},{"s":"Consumers","t":2020.7,"v":10.1},{"s":"Consumers","t":2020.8,"v":12.1},{"s":"Consumers","t":2020.9,"v":15.5},{"s":"Consumers","t":2021.0,"v":16.2},{"s":"Consumers","t":2021.2,"v":18.2},{"s":"Consumers","t":2021.4,"v":23.7},{"s":"Consumers","t":2021.5,"v":29.1},{"s":"Consumers","t":2021.6,"v":30.5},{"s":"Consumers","t":2021.7,"v":35.9},{"s":"Consumers","t":2021.8,"v":37.3},{"s":"Consumers","t":2021.9,"v":35.2},{"s":"Consumers","t":2022.0,"v":37.3},{"s":"Consumers","t":2022.05,"v":38.0},{"s":"Consumers","t":2022.1,"v":49.5},{"s":"Consumers","t":2022.2,"v":63.1},{"s":"Consumers","t":2022.3,"v":53.6},{"s":"Consumers","t":2022.4,"v":45.4},{"s":"Consumers","t":2022.5,"v":42.7},{"s":"Consumers","t":2022.55,"v":44.1},{"s":"Consumers","t":2022.6,"v":42.0}
  ]
},
"vconcat": [
  {
    "width": 668, "height": 16.5,
    "title": {"text": "Goldman Sachs", "anchor": "start", "frame": "group", "font": "DejaVu Sans Condensed", "fontSize": 12, "fontWeight": "normal", "color": "#1d3557", "baseline": "alphabetic", "offset": -1.3},
    "data": {"values": [{}]},
    "mark": {"type": "rule", "color": "#a8a8a8", "strokeWidth": 1},
    "encoding": {"y": {"datum": 1, "type": "quantitative", "scale": {"domain": [0, 1]}, "axis": null}}
  },
  {
    "spacing": 0,
    "resolve": {"scale": {"color": "independent"}, "legend": {"color": "independent"}},
    "hconcat": [
      {"width": 155, "height": 1, "data": {"values": []}, "mark": "rule", "encoding": {}},
      {
        "width": 510, "height": 9.5,
        "title": {"text": "Inflation Expectations", "anchor": "start", "frame": "group", "font": "DejaVu Sans Condensed", "fontSize": 14, "fontWeight": "bold", "color": "#1c365e", "baseline": "alphabetic", "offset": 4},
        "data": {"values": [{}]},
        "mark": {"type": "rule", "color": "#a8a8a8", "strokeWidth": 1},
        "encoding": {"y": {"datum": 1, "type": "quantitative", "scale": {"domain": [0, 1]}, "axis": null}}
      }
    ]
  },
  {
    "spacing": 0,
    "resolve": {"scale": {"color": "independent", "strokeWidth": "independent"}, "legend": {"color": "independent", "strokeWidth": "independent"}},
    "hconcat": [
      {"width": 155, "height": 1, "data": {"values": []}, "mark": "rule", "encoding": {}},
      {
        "width": 423, "height": 210,
        "title": {"text": "Exhibit 9: Our Long-Term Composite Measure Of Inflation Expectations is at an All-Time High", "anchor": "start", "frame": "group", "dx": -39, "font": "DejaVu Sans Condensed", "fontSize": 8.8, "fontWeight": "bold", "color": "#111111", "baseline": "alphabetic", "offset": 7},
        "layer": [
          {
            "layer": [
              {
                "data": {"name": "swap"},
                "mark": {"type": "line", "strokeWidth": 1, "clip": true},
                "encoding": {
                  "x": {"field": "t", "type": "quantitative", "scale": {"domain": [2007.3, 2023.41], "nice": false, "zero": false},
                        "axis": {"orient": "bottom", "values": [2009, 2011, 2013, 2015, 2017, 2019, 2021, 2023], "format": "d",
                                 "title": "For more information on the composite measure, see “Can the ECB Lift Inflation Expectations?,” European Economics Analyst, 19 April 2021.",
                                 "titleFont": "DejaVu Sans Condensed", "titleFontSize": 7.3, "titleColor": "#444", "titleAlign": "left", "titleX": -39, "titleY": 49, "titleBaseline": "alphabetic"}},
                  "y": {"field": "v", "type": "quantitative", "scale": {"domain": [0.61, 2.91], "nice": false, "zero": false},
                        "axis": {"orient": "left", "values": [1.0, 1.5, 2.0, 2.5], "format": ".1f", "title": "%yoy", "titleAngle": 0, "titleAlign": "left", "titleX": -8, "titleY": -7, "titleBaseline": "alphabetic"}},
                  "color": {"datum": "5y5y Inflation Swap (left)", "type": "nominal",
                            "scale": {"domain": ["5y5y Inflation Swap (left)", "Consensus Economics 6-10y Ahead", "SPF 4-5y Ahead", "Composite Measure"], "range": ["#a9d0ee", "#a3a3a3", "#103a60", "#d0232b"]},
                            "legend": {"orient": "none", "legendX": 11, "legendY": 142, "title": null, "symbolType": "M-1.3,0H1.3", "symbolSize": 225, "symbolStrokeWidth": 1.5, "labelFontSize": 10.5, "labelOffset": 12, "rowPadding": 0.7, "padding": 0, "labelLimit": 300}}
                }
              },
              {
                "data": {"values": [{}]},
                "mark": {"type": "rule", "strokeDash": [2, 3], "color": "#222", "strokeWidth": 1},
                "encoding": {"y": {"datum": 2.0, "type": "quantitative"}}
              }
            ]
          },
          {
            "data": {"name": "lt"},
            "mark": {"type": "line"},
            "encoding": {
              "x": {"field": "t", "type": "quantitative", "scale": {"domain": [2007.3, 2023.41], "nice": false, "zero": false},
                    "axis": {"orient": "top", "domain": false, "ticks": false, "labels": false, "title": "Euro Area: Long-Term Inflation Expecations", "titleY": -7, "titleBaseline": "alphabetic"}},
              "y": {"field": "v", "type": "quantitative", "scale": {"domain": [1.4, 2.3], "nice": false, "zero": false},
                    "axis": {"orient": "right", "values": [1.4, 1.5, 1.6, 1.7, 1.8, 1.9, 2.0, 2.1, 2.2, 2.3], "format": ".1f", "title": "%yoy", "titleAngle": 0, "titleAlign": "right", "titleX": 8, "titleY": -7, "titleBaseline": "alphabetic"}},
              "color": {"field": "s", "type": "nominal",
                        "scale": {"domain": ["5y5y Inflation Swap (left)", "Consensus Economics 6-10y Ahead", "SPF 4-5y Ahead", "Composite Measure"], "range": ["#a9d0ee", "#a3a3a3", "#103a60", "#d0232b"]},
                        "legend": {"orient": "none", "legendX": 11, "legendY": 142, "title": null, "symbolType": "M-1.3,0H1.3", "symbolSize": 225, "symbolStrokeWidth": 1.5, "labelFontSize": 10.5, "labelOffset": 12, "rowPadding": 0.7, "padding": 0, "labelLimit": 300}},
              "strokeWidth": {"field": "s", "type": "nominal", "scale": {"domain": ["Consensus Economics 6-10y Ahead", "SPF 4-5y Ahead", "Composite Measure"], "range": [1.2, 1.3, 2.5]}, "legend": null}
            }
          }
        ],
        "resolve": {"scale": {"y": "independent"}, "axis": {"x": "independent"}}
      }
    ]
  },
  {
    "spacing": 0,
    "hconcat": [
      {"width": 155, "height": 1, "data": {"values": []}, "mark": "rule", "encoding": {}},
      {
        "width": 510, "height": 44.6,
        "data": {"values": [{}]},
        "layer": [
          {"mark": {"type": "rule", "color": "#a8a8a8", "strokeWidth": 1}, "encoding": {"y": {"datum": 0.865, "type": "quantitative", "scale": {"domain": [0, 1]}, "axis": null}}},
          {"mark": {"type": "rule", "color": "#a8a8a8", "strokeWidth": 1}, "encoding": {"y": {"datum": 0.215, "type": "quantitative", "scale": {"domain": [0, 1]}, "axis": null}}},
          {"mark": {"type": "text", "align": "left", "baseline": "middle", "font": "DejaVu Sans Condensed", "fontSize": 7.5, "color": "#444"},
           "encoding": {"x": {"datum": 0, "type": "quantitative", "scale": {"domain": [0, 1]}, "axis": null}, "y": {"datum": 0.641, "type": "quantitative", "scale": {"domain": [0, 1]}, "axis": null}, "text": {"value": "Source: Goldman Sachs Global Investment Research, European Central Bank, Haver Analytics"}}}
        ]
      }
    ]
  },
  {
    "spacing": 0,
    "resolve": {"scale": {"color": "independent"}, "legend": {"color": "independent"}},
    "hconcat": [
      {"width": 155, "height": 1, "data": {"values": []}, "mark": "rule", "encoding": {}},
      {
        "width": 424, "height": 212,
        "title": {"text": "Exhibit 10: Near-Term Inflation Expectations Look to be Past Their Peak", "anchor": "start", "frame": "group", "dx": -42, "font": "DejaVu Sans Condensed", "fontSize": 8.8, "fontWeight": "bold", "color": "#111111", "baseline": "alphabetic", "offset": 5.1},
        "layer": [
          {
            "data": {"values": [{}]},
            "mark": {"type": "rule", "color": "#6e6e6e", "strokeWidth": 1.2},
            "encoding": {
              "x": {"datum": 1999.9, "type": "quantitative", "scale": {"domain": [1999.9, 2023.65], "nice": false, "zero": false},
                    "axis": {"orient": "top", "domain": false, "ticks": false, "labels": false, "title": "Near-Term Price Expectations", "titleY": 2, "titleBaseline": "alphabetic"}},
              "x2": {"datum": 2023.65},
              "y": {"datum": 0, "type": "quantitative", "scale": {"domain": [-20, 66.5], "nice": false, "zero": false},
                    "axis": {"orient": "right", "values": [-20, -10, 0, 10, 20, 30, 40, 50, 60], "format": "d", "title": "Percent Balance", "titleAngle": 0, "titleAlign": "right", "titleX": 9, "titleY": -9, "titleBaseline": "alphabetic"}}
            }
          },
          {
            "data": {"name": "nt"},
            "mark": {"type": "line", "strokeWidth": 1.5},
            "encoding": {
              "x": {"field": "t", "type": "quantitative", "scale": {"domain": [1999.9, 2023.65], "nice": false, "zero": false},
                    "axis": {"orient": "bottom", "values": [2000, 2004, 2008, 2012, 2016, 2020], "format": "d", "title": null}},
              "y": {"field": "v", "type": "quantitative", "scale": {"domain": [-20, 66.5], "nice": false, "zero": false},
                    "axis": {"orient": "left", "values": [-20, -10, 0, 10, 20, 30, 40, 50, 60], "format": "d", "title": "Percent Balance", "titleAngle": 0, "titleAlign": "left", "titleX": -8, "titleY": -9, "titleBaseline": "alphabetic"}},
              "color": {"field": "s", "type": "nominal",
                        "scale": {"domain": ["Consumers", "Retail Trade", "Service Industry"], "range": ["#0d2c54", "#a6cdee", "#a3a3a3"]},
                        "legend": {"orient": "none", "legendX": 14, "legendY": 5, "title": null, "symbolType": "M-1.77,0H1.77", "symbolSize": 169, "symbolStrokeWidth": 1.6, "labelFontSize": 11, "labelOffset": 12, "rowPadding": 0.5, "padding": 0}}
            }
          }
        ],
        "resolve": {"scale": {"y": "independent"}, "axis": {"x": "independent"}}
      }
    ]
  },
  {
    "spacing": 0,
    "hconcat": [
      {"width": 155, "height": 1, "data": {"values": []}, "mark": "rule", "encoding": {}},
      {
        "width": 510, "height": 40,
        "data": {"values": [{}]},
        "layer": [
          {"mark": {"type": "rule", "color": "#a8a8a8", "strokeWidth": 1}, "encoding": {"y": {"datum": 0.525, "type": "quantitative", "scale": {"domain": [0, 1]}, "axis": null}}},
          {"mark": {"type": "text", "align": "left", "baseline": "middle", "font": "DejaVu Sans Condensed", "fontSize": 7.5, "color": "#444"},
           "encoding": {"x": {"datum": 0, "type": "quantitative", "scale": {"domain": [0, 1]}, "axis": null}, "y": {"datum": 0.25, "type": "quantitative", "scale": {"domain": [0, 1]}, "axis": null}, "text": {"value": "Source: Goldman Sachs Global Investment Research, European Commission, Haver Analytics"}}}
        ]
      }
    ]
  },
  {
    "width": 668, "height": 234,
    "data": {"values": [{}]},
    "layer": [
      {"mark": {"type": "text", "align": "left", "baseline": "alphabetic", "font": "DejaVu Sans Condensed", "fontSize": 10, "color": "#1d3557"},
       "encoding": {"x": {"datum": 0, "type": "quantitative", "scale": {"domain": [0, 1]}, "axis": null}, "y": {"datum": 0, "type": "quantitative", "scale": {"domain": [0, 1]}, "axis": null}, "text": {"value": "24 August 2022"}}},
      {"mark": {"type": "text", "align": "right", "baseline": "alphabetic", "font": "DejaVu Sans Condensed", "fontSize": 10, "color": "#1d3557"},
       "encoding": {"x": {"datum": 1, "type": "quantitative", "scale": {"domain": [0, 1]}, "axis": null}, "y": {"datum": 0, "type": "quantitative", "scale": {"domain": [0, 1]}, "axis": null}, "text": {"value": "6"}}}
    ]
  }
]
}
